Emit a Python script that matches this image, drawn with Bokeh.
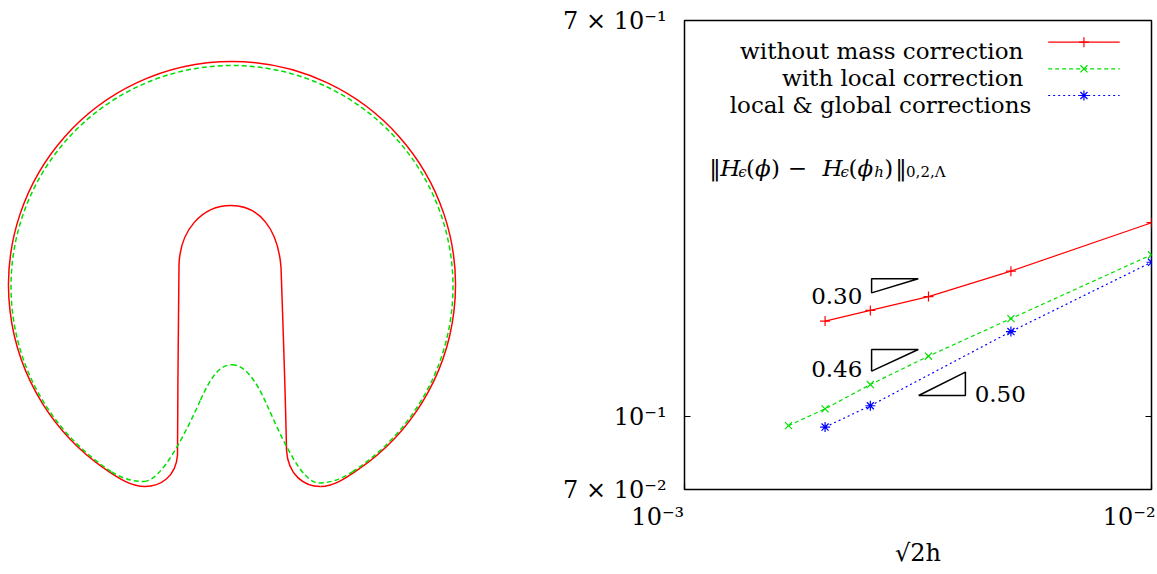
import numpy as np
from bokeh.plotting import figure
from bokeh.layouts import row
from bokeh.models import Range1d, FixedTicker, LogAxis, Label
from bokeh.embed import file_html
from bokeh.resources import INLINE

# ---------------- right panel data ----------------
sqrt2h_local = [0.00167, 0.002, 0.0025, 0.00333, 0.005, 0.01]
err_local = [0.0958, 0.104, 0.1172, 0.1347, 0.162, 0.2216]
sqrt2h_without = [0.002, 0.0025, 0.00333, 0.005, 0.01]
err_without = [0.160, 0.1686, 0.1805, 0.2045, 0.2594]
sqrt2h_global = [0.002, 0.0025, 0.005, 0.01]
err_global = [0.0951, 0.1056, 0.152, 0.2136]
series_names = ["without mass correction", "with local correction", "local & global corrections"]
slopes = [0.30, 0.46, 0.50]
x_ticks = [1e-3, 1e-2]
x_tick_labels = ["10⁻³", "10⁻²"]
y_ticks = [0.07, 0.1, 0.7]
y_tick_labels = ["7 × 10⁻²", "10⁻¹", "7 × 10⁻¹"]
x_title = "√2h"

# ---------------- left panel contour data (pixel-like units) ----------------
# circular part: centre x, centre y, radius, start angle, end angle (deg)
red_arc = [0.0, 0.0, 223.5, -55.0, 235.0]
green_arc = [0.0, -1.5, 221.0, -57.0, 237.0]
# lower parts as cubic Bezier segments
red_x0 = [-128.2, -87.0, -54.5, -53.0, -1.0, 49.0, 54.5, 88.5]
red_y0 = [-183.1, -201.5, -170.0, 20.0, 79.5, 18.0, -165.0, -201.5]
red_x1 = [-87.0, -54.5, -53.0, -1.0, 49.0, 54.5, 88.5, 128.2]
red_y1 = [-201.5, -170.0, 20.0, 79.5, 18.0, -165.0, -201.5, -183.1]
red_cx0 = [-111.8, -72.0, -54.3, -52.0, 28.0, 51.0, 56.0, 101.0]
red_cy0 = [-194.6, -201.5, -110.0, 55.0, 79.5, -40.0, -190.0, -201.5]
red_cx1 = [-100.0, -56.0, -53.5, -30.0, 46.0, 53.5, 72.0, 111.8]
red_cy1 = [-201.5, -192.0, -20.0, 79.5, 55.0, -110.0, -201.5, -194.6]

green_x0 = [-120.4, -88.0, -31.5, 0.0, 35.0, 86.8]
green_y0 = [-186.8, -196.5, -115.0, -79.8, -120.0, -198.0]
green_x1 = [-88.0, -31.5, 0.0, 35.0, 86.8, 120.4]
green_y1 = [-196.5, -115.0, -79.8, -120.0, -198.0, -186.8]
green_cx0 = [-108.7, -70.0, -20.0, 12.0, 50.6, 98.0]
green_cy0 = [-194.4, -196.5, -90.0, -79.8, -155.0, -198.0]
green_cx1 = [-98.0, -45.0, -12.0, 23.0, 70.0, 108.7]
green_cy1 = [-196.5, -145.0, -79.8, -93.0, -198.0, -194.4]

RED = "#ff0000"
GREEN = "#00e000"
BLUE = "#0000ff"
FONT = "DejaVu Serif"
FS = "23px"
TICK_FS = "24px"
SUB = "15px"

H = 572
TOP = 20
FRAME_H = 469
BOTTOM = H - TOP - FRAME_H
W_L = 560

# ---------------- left panel ----------------
q = figure(width=W_L, height=H, x_range=Range1d(-231.5, W_L - 231.5),
           y_range=Range1d(284.5 - (TOP + FRAME_H), 284.5 - TOP),
           output_backend="svg", toolbar_location=None,
           min_border_left=0, min_border_right=0, min_border_top=TOP, min_border_bottom=BOTTOM,
           x_axis_location=None, y_axis_location=None)
q.grid.visible = False
q.outline_line_color = None

q.arc(x=[red_arc[0]], y=[red_arc[1]], radius=red_arc[2],
      start_angle=np.deg2rad(red_arc[3]), end_angle=np.deg2rad(red_arc[4]),
      line_color=RED, line_width=1.5)
q.bezier(x0=red_x0, y0=red_y0, x1=red_x1, y1=red_y1, cx0=red_cx0, cy0=red_cy0,
         cx1=red_cx1, cy1=red_cy1, line_color=RED, line_width=1.5)
q.arc(x=[green_arc[0]], y=[green_arc[1]], radius=green_arc[2],
      start_angle=np.deg2rad(green_arc[3]), end_angle=np.deg2rad(green_arc[4]),
      line_color=GREEN, line_width=1.5, line_dash="5 3")
q.bezier(x0=green_x0, y0=green_y0, x1=green_x1, y1=green_y1, cx0=green_cx0, cy0=green_cy0,
         cx1=green_cx1, cy1=green_cy1, line_color=GREEN, line_width=1.5, line_dash="5 3")

# ---------------- right panel ----------------
p = figure(width=1155 - W_L, height=H, x_axis_type="log", y_axis_type="log",
           x_range=Range1d(1e-3, 1e-2), y_range=Range1d(0.07, 0.7),
           output_backend="svg", toolbar_location=None,
           min_border_left=681 - W_L, min_border_right=1155 - 1151,
           min_border_top=TOP, min_border_bottom=BOTTOM)
p.grid.visible = False
p.outline_line_color = "black"
p.outline_line_width = 1.5


def style_axis(ax, ticks):
    ax.ticker = FixedTicker(ticks=ticks, minor_ticks=[])
    ax.major_tick_in = 6
    ax.major_tick_out = 0
    ax.minor_tick_line_color = None
    ax.major_tick_line_color = "black"
    ax.major_tick_line_width = 1.2
    ax.axis_line_color = None
    ax.major_label_text_font = FONT
    ax.major_label_text_font_size = TICK_FS
    ax.major_label_text_color = "black"


# bottom axis: the first label sits left of its tick (padded on the right);
# the last one is pushed inside the canvas edge by Bokeh itself
x_pads = ["\u2007\u2007\u2007\u00a0", ""]
xa = p.xaxis[0]
style_axis(xa, x_ticks)
xa.major_label_overrides = {t: l + pad for t, l, pad in zip(x_ticks, x_tick_labels, x_pads)}
xa.major_label_standoff = 13
xa.axis_label = x_title
xa.axis_label_text_font = FONT
xa.axis_label_text_font_size = TICK_FS
xa.axis_label_text_font_style = "normal"
xa.axis_label_text_color = "black"
xa.axis_label_standoff = 5

ya = p.yaxis[0]
style_axis(ya, y_ticks)
ya.major_label_overrides = {t: l for t, l in zip(y_ticks, y_tick_labels)}
ya.major_label_standoff = 18

ra = LogAxis()
style_axis(ra, y_ticks)
ra.major_label_text_font_size = "1px"
ra.major_label_text_color = None
ra.major_label_standoff = 0
p.add_layout(ra, "right")


def fx(px):
    return 10 ** (-3 + (px - 681) / 470.0)


def fy(py):
    return 0.07 * 10 ** ((489 - py) / 469.0)


def lab(x, y, text, align="left", baseline="alphabetic", size=FS, italic=False):
    p.add_layout(Label(x=x, y=y, text=text, text_font=FONT, text_font_size=size,
                       text_align=align, text_baseline=baseline,
                       text_font_style="italic" if italic else "normal",
                       text_color="black"))


# data series
p.line(sqrt2h_without, err_without, line_color=RED, line_width=1.2)
p.scatter(sqrt2h_without, err_without, marker="cross", size=10, line_color=RED, line_width=1.2)
p.line(sqrt2h_local, err_local, line_color=GREEN, line_width=1.2, line_dash="4 3")
p.scatter(sqrt2h_local, err_local, marker="x", size=10, line_color=GREEN, line_width=1.2)
p.line(sqrt2h_global, err_global, line_color=BLUE, line_width=1.2, line_dash="2 3")
p.scatter(sqrt2h_global, err_global, marker="asterisk", size=10, line_color=BLUE, line_width=1.2)

# legend (text on the left, sample on the right)
leg_rows = [41.7, 68.3, 95.0]
leg_text_right = [1022, 1022, 1030]
leg_styles = [(RED, "solid", "cross"), (GREEN, "4 3", "x"), (BLUE, "2 3", "asterisk")]
for name, yy, xr, (col, dash, mk) in zip(series_names, leg_rows, leg_text_right, leg_styles):
    lab(fx(xr), fy(yy + 9), name, align="right")
    p.line([fx(1047), fx(1119)], [fy(yy), fy(yy)], line_color=col, line_width=1.2, line_dash=dash)
    p.scatter([fx(1083)], [fy(yy)], marker=mk, size=10, line_color=col, line_width=1.2)

# formula  ||H_eps(phi) - H_eps(phi_h)||_{0,2,Lambda}
formula = [(706, "‖", False, False), (717, "H", True, False), (735, "ϵ", True, True),
           (743, "(", False, False), (752, "ϕ", True, False), (768, ")", False, False),
           (785, "−", False, False), (820, "H", True, False), (838, "ϵ", True, True),
           (846, "(", False, False), (855, "ϕ", True, False), (872, "h", True, True),
           (882, ")", False, False), (893, "‖", False, False), (904, "0,2,Λ", False, True)]
for px, t, it, sub in formula:
    lab(fx(px), fy(171 if sub else 167), t, size=SUB if sub else FS, italic=it)

# slope triangles
tri_anchor = [(869.3, 278.3), (869.3, 349.0), (916.7, 395.0)]
tri_up = [False, False, True]
base = 0.1
xs, ys = [], []
for (ax_, ay_), s, up in zip(tri_anchor, slopes, tri_up):
    x0, y0 = fx(ax_), fy(ay_)
    x1 = x0 * 10 ** base
    if up:
        xs.append([x0, x1, x1])
        ys.append([y0, y0, y0 * 10 ** (s * base)])
    else:
        xs.append([x0, x1, x0])
        ys.append([y0, y0, y0 * 10 ** (-s * base)])
p.patches(xs, ys, fill_color=None, line_color="black", line_width=1.5)

slope_pos = [(860, 295, "right"), (860, 368, "right"), (973, 393, "left")]
for s, (px, py, al) in zip(slopes, slope_pos):
    lab(fx(px), fy(py), f"{s:.2f}", align=al)

layout = row(q, p)
open("out.html", "w").write(file_html(layout, INLINE))
